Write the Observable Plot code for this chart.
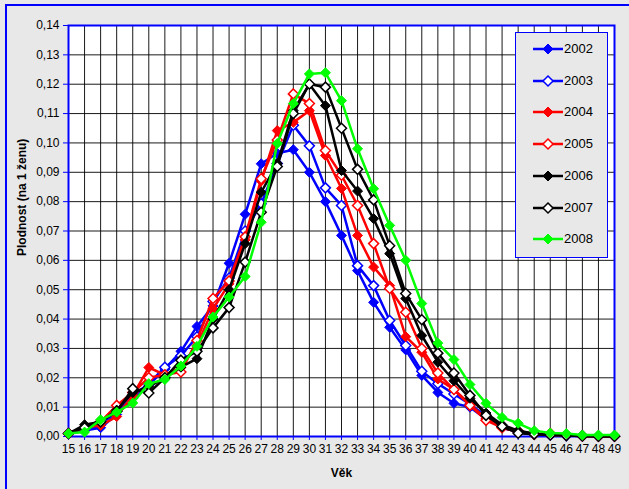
<!DOCTYPE html>
<html><head><meta charset="utf-8">
<script src="https://cdn.jsdelivr.net/npm/d3@7"></script>
<script src="https://cdn.jsdelivr.net/npm/@observablehq/plot@0.6"></script>
<style>
body{margin:0;background:#e8e8e8;}
#wrap{position:relative;width:629px;height:489px;overflow:hidden;background:#e8e8e8;font-family:"Liberation Sans",Arial,sans-serif;}
#border{position:absolute;left:5px;top:4px;width:700px;height:600px;border:2px solid #0000ff;box-sizing:border-box;pointer-events:none;}
#legend{position:absolute;left:515px;top:32px;width:93px;height:226px;border:1.5px solid #0000ff;background:#e8e8e8;box-sizing:border-box;}
.li{position:absolute;left:0;height:14px;font-size:13px;line-height:14px;color:#000;}
.li svg{position:absolute;left:16px;top:0;}
.li span{position:absolute;left:48px;top:0;}
</style></head><body><div id="wrap"><div id="border"></div></div>
<script>
const ages = [15,16,17,18,19,20,21,22,23,24,25,26,27,28,29,30,31,32,33,34,35,36,37,38,39,40,41,42,43,44,45,46,47,48,49];
const yTicks = [0,0.01,0.02,0.03,0.04,0.05,0.06,0.07,0.08,0.09,0.10,0.11,0.12,0.13,0.14];
const years = ["2002","2003","2004","2005","2006","2007","2008"];
const colors = ["#0000ff","#0000ff","#ff0000","#ff0000","#000000","#000000","#00ff00"];
const filled = [true,false,true,false,true,false,true];

const v2002 = [.0010,.0020,.0030,.0075,.0130,.0175,.0230,.0290,.0375,.0445,.0590,.0757,.0929,.0965,.0977,.0900,.0800,.0685,.0565,.0457,.0372,.0295,.0208,.0150,.0113,.0100,.0060,.0030,.0015,.0008,.0005,.0003,.0002,.0001,.0001];
const v2003 = [.0010,.0022,.0040,.0085,.0140,.0180,.0236,.0275,.0340,.0460,.0540,.0700,.0793,.0930,.1060,.0990,.0847,.0787,.0582,.0514,.0395,.0310,.0222,.0180,.0145,.0110,.0070,.0035,.0015,.0008,.0005,.0003,.0002,.0001,.0001];
const v2004 = [.0010,.0030,.0038,.0068,.0140,.0235,.0210,.0235,.0310,.0435,.0520,.0670,.0870,.1042,.1070,.1110,.0957,.0845,.0685,.0577,.0514,.0340,.0287,.0196,.0160,.0110,.0060,.0030,.0020,.0008,.0005,.0003,.0002,.0001,.0001];
const v2005 = [.0010,.0030,.0050,.0106,.0150,.0200,.0210,.0220,.0327,.0470,.0530,.0680,.0878,.1010,.1167,.1134,.0974,.0890,.0787,.0657,.0504,.0423,.0300,.0216,.0160,.0106,.0055,.0030,.0015,.0008,.0010,.0005,.0002,.0001,.0001];
const v2006 = [.0010,.0040,.0050,.0090,.0150,.0170,.0200,.0236,.0265,.0400,.0500,.0657,.0832,.0930,.1110,.1200,.1127,.0906,.0836,.0742,.0623,.0470,.0344,.0253,.0190,.0130,.0080,.0040,.0020,.0010,.0005,.0005,.0002,.0001,.0001];
const v2007 = [.0010,.0030,.0050,.0085,.0163,.0148,.0200,.0260,.0290,.0370,.0439,.0594,.0764,.0920,.1100,.1201,.1190,.1050,.0910,.0806,.0650,.0487,.0398,.0284,.0216,.0140,.0072,.0034,.0011,.0008,.0005,.0003,.0002,.0001,.0001];
const v2008 = [.0010,.0015,.0057,.0083,.0114,.0180,.0194,.0240,.0307,.0407,.0475,.0545,.0730,.0998,.1134,.1235,.1239,.1144,.0980,.0844,.0719,.0600,.0453,.0318,.0262,.0177,.0113,.0065,.0045,.0020,.0012,.0010,.0005,.0005,.0005];
const series = [v2002,v2003,v2004,v2005,v2006,v2007,v2008];

const tidy = [];
years.forEach((yr,i)=>series[i].forEach((v,j)=>tidy.push({year:yr, age:ages[j], v})));

const marks = [
  Plot.frame({fill:"white"}),
  Plot.ruleX(ages,{x:d=>d, stroke:"#000", strokeWidth:1, strokeOpacity:0.9}),
  Plot.ruleY(yTicks,{y:d=>d, stroke:"#000", strokeWidth:1, strokeOpacity:0.9}),
  Plot.frame({stroke:"#0000ff", strokeWidth:2}),
  Plot.axisY(yTicks,{tickSize:5, tickPadding:4, stroke:"#0000ff", fill:"#000", tickFormat:d=>d.toFixed(2).replace(".",","), label:null}),
  Plot.axisX(ages,{tickSize:4, tickPadding:4, stroke:"#0000ff", fill:"#000", tickFormat:d=>String(d), label:null}),
  Plot.text(["Plodnost (na 1 ženu)"],{frameAnchor:"left", dx:-46, dy:25, rotate:-90, fontWeight:"bold", fontSize:12}),
  Plot.text(["Věk"],{frameAnchor:"bottom", dy:40, fontWeight:"bold", fontSize:12})
];
years.forEach((yr,i)=>{
  const d = tidy.filter(t=>t.year===yr);
  marks.push(Plot.line(d,{x:"age", y:"v", stroke:colors[i], strokeWidth:2.5}));
  marks.push(Plot.dot(d,{x:"age", y:"v", symbol:"diamond2", r:4.5, fill:filled[i]?colors[i]:"#ffffff", stroke:colors[i], strokeWidth:filled[i]?1:1.5}));
});

const chart = Plot.plot({
  width:629, height:489,
  marginLeft:68, marginRight:15, marginTop:25, marginBottom:53,
  style:{background:"transparent", fontFamily:"'Liberation Sans', Arial, sans-serif", fontSize:"12px", color:"#000"},
  x:{domain:[15,49], axis:null},
  y:{domain:[0,0.14], axis:null},
  marks
});
chart.style.position="absolute"; chart.style.left="0"; chart.style.top="0";
const wrap = document.getElementById("wrap");
wrap.insertBefore(chart, wrap.firstChild);

const lg = document.createElement("div"); lg.id="legend";
years.forEach((yr,i)=>{
  const it = document.createElement("div"); it.className="li";
  it.style.top = (9 + i*31.7)+"px";
  it.style.width="90px";
  const fill = filled[i]?colors[i]:"#fff";
  it.innerHTML = `<svg width="32" height="14"><line x1="1" y1="7" x2="31" y2="7" stroke="${colors[i]}" stroke-width="2.5"/><path d="M16,2L21,7L16,12L11,7Z" fill="${fill}" stroke="${colors[i]}" stroke-width="${filled[i]?1:1.5}"/></svg><span>${yr}</span>`;
  lg.appendChild(it);
});
wrap.appendChild(lg);
</script></body></html>
